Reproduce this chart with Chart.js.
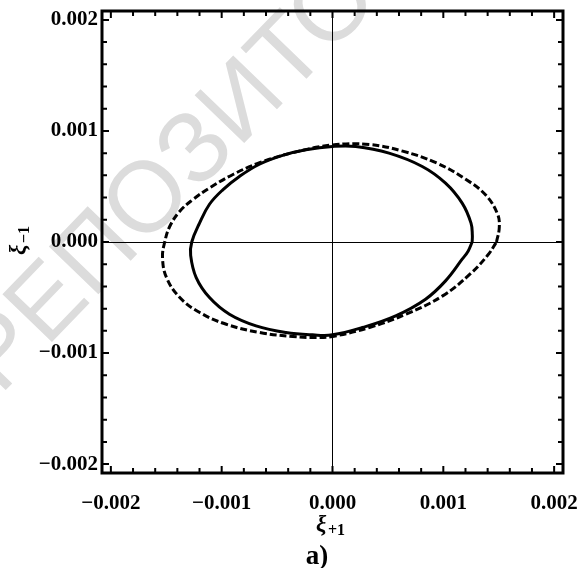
<!DOCTYPE html>
<html>
<head>
<meta charset="utf-8">
<script src="https://cdn.jsdelivr.net/npm/chart.js@4.4.1/dist/chart.umd.min.js"></script>
<style>
  html, body { margin: 0; padding: 0; background: #fff; }
  canvas { display: block; }
</style>
</head>
<body>
<canvas id="plot" width="577" height="568"></canvas>
<script>
// going round each loop
const solidX = [0.00126, 0.001262, 0.00125, 0.00117, 0.00102, 0.00081, 0.00051, 0.00021, 0.0, -0.00024, -0.00045, -0.00066, -0.00084, -0.00099, -0.00111, -0.0012, -0.00127, -0.00128, -0.00123, -0.00111, -0.00093, -0.00069, -0.00042, -0.00018, 0.0, 0.00027, 0.00057, 0.00084, 0.00102, 0.00117, 0.001225, 0.00126];
const solidY = [0.0, 0.00006, 0.00017, 0.00035, 0.00053, 0.00068, 0.0008, 0.00086, 0.00086, 0.00083, 0.00078, 0.0007, 0.00059, 0.00047, 0.00034, 0.00017, 0.0, -0.00012, -0.00032, -0.0005, -0.00065, -0.000755, -0.000815, -0.000836, -0.000836, -0.00077, -0.000665, -0.000515, -0.00035, -0.000155, -0.00008, 0.0];

const dashedX = [0.00148, 0.001505, 0.00149, 0.001385, 0.001205, 0.000934, 0.000633, 0.000333, 0.0, -0.000358, -0.000658, -0.000898, -0.001108, -0.001259, -0.001378, -0.001468, -0.001514, -0.001534, -0.001498, -0.001378, -0.001198, -0.000958, -0.000658, -0.000358, -0.000147, 0.0, 0.000333, 0.000664, 0.000994, 0.00124, 0.0014, 0.00148];
const dashedY = [0.0, 0.00013, 0.00025, 0.00042, 0.000563, 0.000714, 0.000818, 0.000878, 0.000874, 0.000804, 0.000714, 0.000608, 0.000488, 0.000383, 0.000277, 0.000142, 0.0, -0.00014, -0.00032, -0.0005, -0.000635, -0.000741, -0.000815, -0.000851, -0.00086, -0.000851, -0.00077, -0.00065, -0.000485, -0.00029, -0.00012, 0.0];

const axisMin = -0.00208;
const axisMax = 0.00208;
const minorStep = 0.0002;
const majorStep = 0.001;

const toPoints = (xs, ys) => xs.map((x, i) => ({ x: x, y: ys[i] }));

const isMajor = (v) => Math.abs(v / majorStep - Math.round(v / majorStep)) < 1e-6;

const tickLabel = (v) => {
  if (!isMajor(v)) return '';
  const s = (Math.abs(v) < 1e-9 ? 0 : v).toFixed(3);
  return s.replace('-', '\u2212');
};

const labelFont = { family: 'Liberation Serif', weight: 'bold', size: 21 };

// watermark, drawn behind everything
const watermark = {
  id: 'watermark',
  beforeDraw(chart) {
    const ctx = chart.ctx;
    ctx.save();
    ctx.translate(0, 396);
    ctx.rotate(-46 * Math.PI / 180);
    ctx.fillStyle = '#dcdcdc';
    ctx.font = '100px "Liberation Sans"';
    ctx.textBaseline = 'alphabetic';
    ctx.fillText('РЕПОЗИТОРИЙ', 0, 0);
    ctx.restore();
  },
};

// frame, inward tick marks and the axis titles
const frame = {
  id: 'frame',
  afterDraw(chart) {
    const ctx = chart.ctx;
    const a = chart.chartArea;
    const xs = chart.scales.x;
    const ys = chart.scales.y;
    ctx.save();
    ctx.strokeStyle = '#000';
    ctx.lineWidth = 2;
    xs.ticks.forEach((t) => {
      const p = xs.getPixelForValue(t.value);
      const len = isMajor(t.value) ? 7 : 5;
      ctx.beginPath();
      ctx.moveTo(p, a.bottom); ctx.lineTo(p, a.bottom - len);
      ctx.moveTo(p, a.top); ctx.lineTo(p, a.top + len);
      ctx.stroke();
    });
    ys.ticks.forEach((t) => {
      const p = ys.getPixelForValue(t.value);
      const len = isMajor(t.value) ? 7 : 5;
      ctx.beginPath();
      ctx.moveTo(a.left, p); ctx.lineTo(a.left + len, p);
      ctx.moveTo(a.right, p); ctx.lineTo(a.right - len, p);
      ctx.stroke();
    });
    ctx.lineWidth = 3;
    ctx.strokeRect(a.left, a.top, a.right - a.left, a.bottom - a.top);

    ctx.fillStyle = '#000';
    ctx.textBaseline = 'alphabetic';
    // x title
    ctx.textAlign = 'left';
    ctx.font = 'italic bold 23px "Liberation Serif"';
    ctx.fillText('ξ', 316, 531);
    ctx.font = 'bold 16px "Liberation Serif"';
    ctx.fillText('+1', 328, 535);
    // y title
    ctx.save();
    ctx.translate(25, 255);
    ctx.rotate(-Math.PI / 2);
    ctx.font = 'italic bold 23px "Liberation Serif"';
    ctx.fillText('ξ', 0, 0);
    ctx.font = 'bold 16px "Liberation Serif"';
    ctx.fillText('\u22121', 12, 4);
    ctx.restore();
    // panel letter
    ctx.textAlign = 'center';
    ctx.font = 'bold 27px "Liberation Serif"';
    ctx.fillText('a)', 317, 564);
    ctx.restore();
  },
};

new Chart(document.getElementById('plot'), {
  type: 'scatter',
  data: {
    datasets: [
      {
        label: 'solid',
        data: toPoints(solidX, solidY),
        showLine: true,
        borderColor: '#000',
        borderWidth: 3,
        pointRadius: 0,
        tension: 0.4,
      },
      {
        label: 'dashed',
        data: toPoints(dashedX, dashedY),
        showLine: true,
        borderColor: '#000',
        borderWidth: 3,
        borderDash: [7, 3],
        pointRadius: 0,
        tension: 0.4,
      },
    ],
  },
  plugins: [watermark, frame],
  options: {
    responsive: false,
    animation: false,
    layout: { padding: { top: 11, right: 14, left: 0, bottom: 0 } },
    plugins: {
      legend: { display: false },
      tooltip: { enabled: false },
    },
    scales: {
      x: {
        type: 'linear',
        min: axisMin,
        max: axisMax,
        border: { display: false },
        grid: {
          drawTicks: false,
          color: (c) => (c.tick && Math.abs(c.tick.value) < 1e-9 ? '#000' : 'rgba(0,0,0,0)'),
          lineWidth: 1,
        },
        ticks: {
          stepSize: minorStep,
          includeBounds: false,
          autoSkip: false,
          maxRotation: 0,
          padding: 18,
          color: '#000',
          font: labelFont,
          callback: tickLabel,
        },
        afterFit: (scale) => {
          scale.height = 95;
          scale.paddingLeft = 0;
          scale.paddingRight = 0;
        },
      },
      y: {
        type: 'linear',
        min: axisMin,
        max: axisMax,
        border: { display: false },
        grid: {
          drawTicks: false,
          color: (c) => (c.tick && Math.abs(c.tick.value) < 1e-9 ? '#000' : 'rgba(0,0,0,0)'),
          lineWidth: 1,
        },
        ticks: {
          stepSize: minorStep,
          includeBounds: false,
          autoSkip: false,
          padding: 4,
          color: '#000',
          font: labelFont,
          callback: tickLabel,
        },
        afterFit: (scale) => {
          scale.width = 102;
          scale.paddingTop = 0;
          scale.paddingBottom = 0;
        },
      },
    },
  },
});
</script>
</body>
</html>
